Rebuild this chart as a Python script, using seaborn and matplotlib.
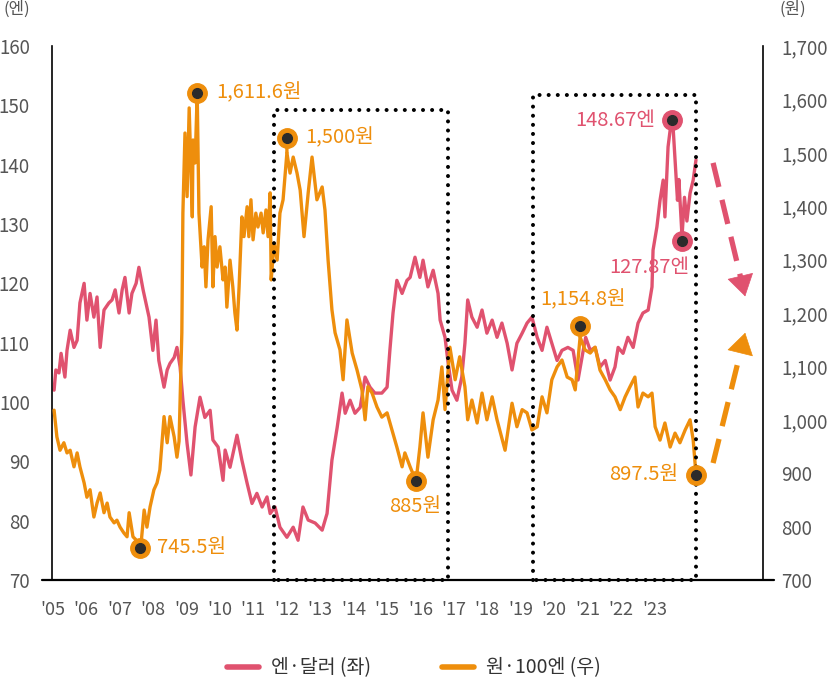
import numpy as np
import pandas as pd
import seaborn as sns
import matplotlib.pyplot as plt
from matplotlib.lines import Line2D
from matplotlib.transforms import offset_copy

# 엔·달러 (좌축)
yen_t = [2005.04, 2005.09, 2005.18, 2005.24, 2005.35, 2005.41, 2005.50, 2005.61, 2005.70, 2005.78,
         2005.90, 2005.98, 2006.07, 2006.18, 2006.27, 2006.36, 2006.47, 2006.61, 2006.70, 2006.79,
         2006.90, 2006.99, 2007.07, 2007.19, 2007.27, 2007.39, 2007.47, 2007.59, 2007.67, 2007.76,
         2007.87, 2007.96, 2008.04, 2008.19, 2008.28, 2008.36, 2008.48, 2008.56, 2008.65, 2008.73,
         2008.85, 2008.96, 2009.08, 2009.22, 2009.36, 2009.51, 2009.59, 2009.74, 2009.88, 2009.94,
         2010.08, 2010.28, 2010.42, 2010.57, 2010.71, 2010.85, 2011.00, 2011.14, 2011.23, 2011.37,
         2011.51, 2011.71, 2011.89, 2012.03, 2012.17, 2012.32, 2012.52, 2012.72, 2012.86, 2013.00,
         2013.15, 2013.29, 2013.38, 2013.52, 2013.66, 2013.81, 2013.95, 2014.09, 2014.23, 2014.43,
         2014.58, 2014.66, 2014.75, 2014.86, 2015.01, 2015.15, 2015.24, 2015.38, 2015.52, 2015.61,
         2015.75, 2015.90, 2016.04, 2016.10, 2016.24, 2016.32, 2016.44, 2016.58, 2016.72, 2016.81,
         2016.89, 2017.01, 2017.16, 2017.30, 2017.44, 2017.59, 2017.73, 2017.87, 2018.02, 2018.16,
         2018.30, 2018.45, 2018.59, 2018.73, 2018.88, 2019.02, 2019.16, 2019.30, 2019.45, 2019.59,
         2019.76, 2019.91, 2020.05, 2020.20, 2020.27, 2020.40, 2020.54, 2020.68, 2020.83, 2020.97,
         2021.11, 2021.20, 2021.34, 2021.48, 2021.63, 2021.77, 2021.91, 2022.06, 2022.17, 2022.20,
         2022.31, 2022.40, 2022.49, 2022.54, 2022.63, 2022.75, 2022.83, 2022.90, 2022.94, 2023.00,
         2023.03, 2023.10, 2023.17, 2023.26, 2023.35, 2023.43]
yen_val = [102.0, 105.4, 104.9, 108.2, 104.2, 108.7, 112.1, 109.2, 110.4, 116.7,
           120.0, 113.8, 118.3, 114.3, 117.7, 109.2, 115.5, 116.7, 117.2, 118.9,
           115.0, 118.9, 121.0, 115.0, 118.3, 120.0, 122.7, 118.9, 116.7, 114.3,
           108.7, 113.8, 107.0, 102.5, 105.4, 106.5, 107.5, 109.2, 105.9, 100.3,
           93.0, 87.7, 95.8, 100.8, 97.4, 98.6, 93.6, 92.4, 86.8, 91.9,
           89.0, 94.4, 90.2, 86.3, 82.9, 84.6, 82.3, 84.0, 81.2, 82.3,
           78.9, 77.2, 78.9, 76.7, 82.3, 80.1, 79.6, 78.4, 81.2, 90.2,
           95.7, 101.5, 98.1, 100.3, 98.1, 99.1, 104.2, 102.5, 101.5, 101.5,
           102.5, 108.7, 115.0, 120.5, 118.3, 120.5, 121.0, 124.4, 121.0, 123.9,
           119.4, 122.2, 118.3, 113.8, 110.9, 107.0, 102.0, 100.3, 104.2, 109.9,
           117.2, 114.3, 112.6, 115.5, 111.6, 113.8, 110.9, 113.3, 109.9, 105.4,
           109.9, 111.6, 113.3, 114.3, 110.9, 108.7, 112.6, 109.9, 107.0, 108.7,
           109.2, 108.7, 103.7, 108.7, 110.9, 108.7, 109.2, 105.9, 107.0, 103.7,
           105.9, 109.2, 108.2, 110.9, 109.2, 113.3, 115.0, 115.5, 119.4, 125.6,
           129.5, 134.0, 137.4, 131.2, 143.0, 148.67, 140.8, 134.0, 137.5, 131.0,
           127.87, 134.5, 130.5, 135.2, 137.4, 140.8]

# 원·100엔 (우축)
won_t = [2005.04, 2005.12, 2005.21, 2005.32, 2005.41, 2005.50, 2005.61, 2005.70, 2005.78, 2005.90,
         2005.98, 2006.07, 2006.18, 2006.27, 2006.36, 2006.47, 2006.56, 2006.64, 2006.76, 2006.84,
         2006.93, 2007.04, 2007.13, 2007.19, 2007.30, 2007.39, 2007.50, 2007.62, 2007.70, 2007.79,
         2007.90, 2007.99, 2008.07, 2008.19, 2008.28, 2008.36, 2008.48, 2008.56, 2008.62, 2008.70,
         2008.73, 2008.79, 2008.85, 2008.91, 2009.00, 2009.02, 2009.08, 2009.14, 2009.19, 2009.28,
         2009.34, 2009.39, 2009.45, 2009.54, 2009.59, 2009.65, 2009.71, 2009.79, 2009.88, 2009.94,
         2009.99, 2010.08, 2010.16, 2010.22, 2010.28, 2010.34, 2010.42, 2010.48, 2010.57, 2010.62,
         2010.68, 2010.74, 2010.82, 2010.88, 2010.97, 2011.03, 2011.11, 2011.17, 2011.23, 2011.26,
         2011.34, 2011.43, 2011.51, 2011.60, 2011.71, 2011.80, 2011.89, 2012.00, 2012.09, 2012.20,
         2012.32, 2012.43, 2012.57, 2012.72, 2012.80, 2012.89, 2013.00, 2013.09, 2013.23, 2013.32,
         2013.43, 2013.58, 2013.72, 2013.86, 2013.95, 2014.03, 2014.15, 2014.29, 2014.43, 2014.58,
         2014.72, 2014.86, 2015.01, 2015.09, 2015.24, 2015.41, 2015.52, 2015.61, 2015.75, 2015.90,
         2016.04, 2016.15, 2016.24, 2016.38, 2016.53, 2016.66, 2016.81, 2016.89, 2017.01, 2017.16,
         2017.30, 2017.44, 2017.59, 2017.73, 2017.96, 2018.16, 2018.30, 2018.45, 2018.59, 2018.73,
         2018.88, 2019.02, 2019.16, 2019.30, 2019.45, 2019.59, 2019.74, 2019.88, 2019.97, 2020.11,
         2020.25, 2020.40, 2020.54, 2020.68, 2020.83, 2020.97, 2021.11, 2021.26, 2021.40, 2021.54,
         2021.68, 2021.77, 2021.91, 2022.06, 2022.17, 2022.26, 2022.40, 2022.54, 2022.69, 2022.83,
         2022.97, 2023.12, 2023.26, 2023.35, 2023.43]
won_val = [1018, 968, 943, 957, 938, 943, 912, 938, 912, 882,
           855, 869, 818, 844, 863, 826, 844, 818, 807, 812,
           799, 788, 781, 826, 781, 775, 745.5, 831, 799, 837,
           869, 882, 906, 1006, 957, 1006, 968, 930, 960, 1163,
           1387, 1537, 1418, 1584, 1380, 1524, 1481, 1611.6, 1387, 1286,
           1324, 1249, 1337, 1399, 1249, 1343, 1286, 1324, 1262, 1286,
           1211, 1299, 1249, 1200, 1168, 1249, 1380, 1343, 1399, 1343,
           1412, 1337, 1387, 1361, 1387, 1350, 1393, 1343, 1425, 1262,
           1331, 1299, 1387, 1412, 1500, 1462, 1492, 1462, 1430, 1343,
           1425, 1492, 1412, 1436, 1393, 1299, 1206, 1163, 1131, 1075,
           1187, 1125, 1093, 1056, 1000, 1062, 1050, 1024, 1005, 1013,
           981, 949, 912, 938, 912, 885, 949, 1013, 930, 1000,
           1037, 1099, 1019, 1136, 1075, 1118, 1062, 1000, 1037, 994,
           1050, 1000, 1043, 1000, 943, 1031, 987, 1019, 1013, 981,
           987, 1043, 1013, 1075, 1099, 1112, 1080, 1075, 1056, 1154.8,
           1131, 1125, 1136, 1093, 1075, 1056, 1043, 1019, 1043, 1062,
           1080, 1024, 1050, 1043, 1050, 987, 962, 994, 949, 975,
           957, 981, 1000, 962, 897.5]

# 강조 지점
yen_mark_t = [2022.75, 2023.03]
yen_mark_val = [148.67, 127.87]
yen_mark_txt = ["148.67엔", "127.87엔"]
won_mark_t = [2009.14, 2011.71, 2007.50, 2015.41, 2020.11, 2023.43]
won_mark_val = [1611.6, 1500, 745.5, 885, 1154.8, 897.5]
won_mark_txt = ["1,611.6원", "1,500원", "745.5원", "885원", "1,154.8원", "897.5원"]

# 점선 박스 (기간, 좌축 높이)
box_x = [(2011.34, 2016.33), (2018.76, 2023.43)]
box_top = [149.2, 151.7]

year_labels = ["'05", "'06", "'07", "'08", "'09", "'10", "'11", "'12", "'13", "'14",
               "'15", "'16", "'17", "'18", "'19", "'20", "'21", "'22", "'23"]

PINK = "#E0526F"
ORANGE = "#EE8E0C"
DARK = "#2B2B2B"
GRAY = "#555555"

sns.set_style("white")
plt.rcParams['font.family'] = ['Noto Sans CJK KR', 'DejaVu Sans']

fig = plt.figure(figsize=(8.28, 6.81), dpi=100)
ax = fig.add_axes([52 / 828, 1 - 580 / 681, (763 - 52) / 828, (580 - 46) / 681])
ax2 = ax.twinx()

yen = pd.DataFrame({"t": yen_t, "v": yen_val})
won = pd.DataFrame({"t": won_t, "v": won_val})
sns.lineplot(data=yen, x="t", y="v", ax=ax, color=PINK, lw=2.4, legend=False)
sns.lineplot(data=won, x="t", y="v", ax=ax2, color=ORANGE, lw=2.4, legend=False)

ax.set_xlim(2004.98, 2025.35)
ax.set_ylim(70, 160)
ax2.set_ylim(700, 1700)

# axes styling
for a in (ax, ax2):
    a.set_xlabel("")
    a.set_ylabel("")
    for s in a.spines.values():
        s.set_visible(False)
ax.spines["left"].set_visible(True)
ax2.spines["right"].set_visible(True)
ax.spines["left"].set_linewidth(1.2)
ax2.spines["right"].set_linewidth(1.2)
ax.spines["left"].set_color("black")
ax2.spines["right"].set_color("black")
ax.plot([-0.014, 1.016], [0, 0], transform=ax.transAxes, color="black", lw=1.6, clip_on=False)

ax.set_yticks(range(70, 161, 10))
ax.tick_params(axis="y", length=0, pad=16, labelsize=13.5, labelcolor=GRAY)
ax2.set_yticks(range(700, 1701, 100))
ax2.set_yticklabels([f"{v:,}" for v in range(700, 1701, 100)])
ax2.tick_params(axis="y", length=0, pad=13, labelsize=13.5, labelcolor=GRAY)

tick_pos = 2005 + np.arange(len(year_labels)) * 0.958
ax.set_xticks(tick_pos)
ax.set_xticklabels(year_labels)
ax.tick_params(axis="x", length=0, pad=15, labelsize=13, labelcolor=GRAY)

fig.text(17 / 828, 1 - 9 / 681, "(엔)", ha="center", va="center", fontsize=12, color=GRAY)
fig.text(793 / 828, 1 - 9 / 681, "(원)", ha="center", va="center", fontsize=12, color=GRAY)

# dotted boxes
for (x0, x1), top in zip(box_x, box_top):
    ax2.plot([x0, x0, x1, x1, x0], [70, top, top, 70, 70], transform=ax.transData,
             color="black", lw=2.9, ls=(0, (0.01, 2.25)), dash_capstyle="round",
             clip_on=False, zorder=5)

# highlighted points: marker lift (px) and label offset from marker (pt)
won_lift = [0, 15, 8, 0, 11, 0]
yen_lift = [-7, -4]
won_offsets = [(14, 0, "left"), (13, 0, "left"), (12, 0, "left"),
               (-1, -18, "center"), (2, 19, "center"), (-13, 0, "right")]
yen_offsets = [(-12, 0, "right"), (5, -19, "right")]


def mark(axis, trans, t, v, lift, txt, off, color):
    mtrans = offset_copy(trans, fig=fig, x=0, y=lift, units="dots")
    if lift:
        axis.annotate("", xy=(t, v), xycoords=trans, xytext=(0, lift * 72 / fig.dpi),
                      textcoords="offset points",
                      arrowprops=dict(arrowstyle="-", color=color, lw=2.4, shrinkA=0, shrinkB=0))
    axis.plot(t, v, "o", ms=14, color=color, zorder=6, transform=mtrans, clip_on=False)
    axis.plot(t, v, "o", ms=7, color=DARK, zorder=7, transform=mtrans, clip_on=False)
    dx, dy, ha = off
    axis.annotate(txt, (t, v), xycoords=trans, xytext=(dx, dy + lift * 72 / fig.dpi),
                  textcoords="offset points", ha=ha, va="center",
                  fontsize=14.5, color=color, fontweight="medium", zorder=8)


for t, v, lift, txt, off in zip(won_mark_t, won_mark_val, won_lift, won_mark_txt, won_offsets):
    mark(ax2, ax2.transData, t, v, lift, txt, off, ORANGE)
for t, v, lift, txt, off in zip(yen_mark_t, yen_mark_val, yen_lift, yen_mark_txt, yen_offsets):
    mark(ax2, ax.transData, t, v, lift, txt, off, PINK)


def dashed_arrow(axis, start, tip, color):
    p0 = axis.transData.transform(start)
    p1 = axis.transData.transform(tip)
    d = (p1 - p0) / np.hypot(*(p1 - p0))
    back = -d * 20 * 72 / fig.dpi
    axis.annotate("", xy=tip, xytext=start,
                  arrowprops=dict(arrowstyle="-", color=color, lw=3.8, linestyle=(0, (4.7, 2.5)),
                                  shrinkA=0, shrinkB=12, capstyle="butt"))
    axis.annotate("", xy=tip, xytext=(back[0], back[1]), textcoords="offset points",
                  arrowprops=dict(arrowstyle="-|>,head_length=0.72,head_width=0.45", color=color,
                                  lw=0.5, mutation_scale=20, shrinkA=0, shrinkB=0))


dashed_arrow(ax, (2023.92, 140.3), (2024.84, 117.8), PINK)
dashed_arrow(ax2, (2023.92, 919), (2024.84, 1163), ORANGE)

handles = [Line2D([], [], color=PINK, lw=4), Line2D([], [], color=ORANGE, lw=4)]
fig.legend(handles, ["엔·달러 (좌)", "원·100엔 (우)"], loc="center", bbox_to_anchor=(0.5, 0.019),
           ncol=2, frameon=False, fontsize=14, handlelength=1.64, handletextpad=0.62,
           columnspacing=3.65, labelcolor="#333333")

fig.savefig("out.png", dpi=100)
